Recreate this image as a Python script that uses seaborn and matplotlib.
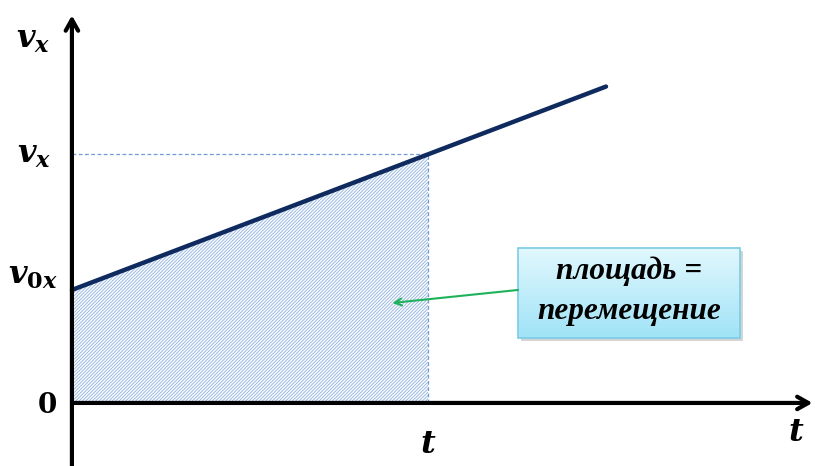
import numpy as np
import matplotlib.pyplot as plt
import seaborn as sns
from matplotlib.patches import Rectangle
from matplotlib.colors import LinearSegmentedColormap

sns.set_style('white')
plt.rcParams['text.color'] = 'black'
plt.rcParams['mathtext.fontset'] = 'custom'
plt.rcParams['mathtext.it'] = 'DejaVu Serif:italic:bold'
plt.rcParams['mathtext.rm'] = 'DejaVu Serif:bold'
plt.rcParams['mathtext.bf'] = 'DejaVu Serif:bold'
plt.rcParams['hatch.linewidth'] = 0.7

# velocity graph data (arbitrary units)
t_line = [0.0, 1.5]
v_line = [1.0, 2.8]
t_area = [0.0, 1.0]
v_area = [1.0, 2.2]
t_mark = 1.0
v_mark = 2.2

fig = plt.figure(figsize=(8.15, 4.66), dpi=100)
ax = fig.add_axes([0, 0, 1, 1])
ax.axis('off')

# hatched area under the graph = displacement
ax.fill_between(t_area, 0, v_area, facecolor='white', edgecolor='#9ab8e2',
                hatch='//////////', linewidth=0, zorder=1)

# dashed guides
ax.plot([0, t_mark], [v_mark, v_mark], ls=(0, (3, 2)), color='#6f9bd6', lw=0.9, zorder=2)
ax.plot([t_mark, t_mark], [0, v_mark], ls=(0, (3, 2)), color='#6f9bd6', lw=0.9, zorder=2)

# v(t) line
sns.lineplot(x=t_line, y=v_line, ax=ax, color='#0e2a5e', lw=3.2, zorder=4)

# axes with arrows
arrow = dict(arrowstyle='->,head_length=0.8,head_width=0.45', lw=3, color='black',
             shrinkA=0, shrinkB=0)
ax.annotate('', xy=(0, 3.43), xytext=(0, -0.6), arrowprops=arrow, zorder=5)
ax.annotate('', xy=(2.08, 0), xytext=(0, 0), arrowprops=arrow, zorder=5)

lab = dict(fontsize=23, color='black', ha='center', va='center')
ax.text(-0.11, 3.22, r'$v_x$', **lab)
ax.text(-0.105, 2.2, r'$v_x$', **lab)
ax.text(-0.11, 1.13, r'$v_{0x}$', **lab)
ax.text(-0.07, -0.02, '0', fontsize=20, fontweight='bold', family='DejaVu Serif',
        ha='center', va='center')
ax.text(1.0, -0.37, r'$t$', **lab)
ax.text(2.035, -0.26, r'$t$', **lab)

# label box with gradient
x0, x1 = 1.253, 1.876
y0, y1 = 0.575, 1.372
ax.add_patch(Rectangle((x0 + 0.008, y0 - 0.03), x1 - x0, y1 - y0,
                       facecolor='#b8b8b8', edgecolor='none', alpha=0.6, zorder=5))
grad = np.linspace(0, 1, 100).reshape(-1, 1)
ax.imshow(grad, extent=(x0, x1, y0, y1), aspect='auto', origin='upper',
          cmap=LinearSegmentedColormap.from_list('g', ['#e2f8fd', '#a0e3f7']), zorder=6)
ax.add_patch(Rectangle((x0, y0), x1 - x0, y1 - y0, facecolor='none',
                       edgecolor='#7ccbe4', lw=1.2, zorder=7))
box_txt = dict(fontsize=22.5, fontweight='bold', fontstyle='italic', family='Liberation Serif',
               ha='center', va='center', color='black', zorder=8)
ax.text((x0 + x1) / 2, 1.17, 'площадь =', **box_txt)
ax.text((x0 + x1) / 2, 0.81, 'перемещение', **box_txt)

# pointer arrow
ax.annotate('', xy=(0.9, 0.885), xytext=(x0, 1.0),
            arrowprops=dict(arrowstyle='->,head_length=0.5,head_width=0.25',
                            lw=1.5, color='#1fb25a', shrinkA=0, shrinkB=0), zorder=8)

ax.set_xlim(-0.202, 2.087)
ax.set_ylim(-0.558, 3.566)
fig.savefig('out.png', dpi=100)
